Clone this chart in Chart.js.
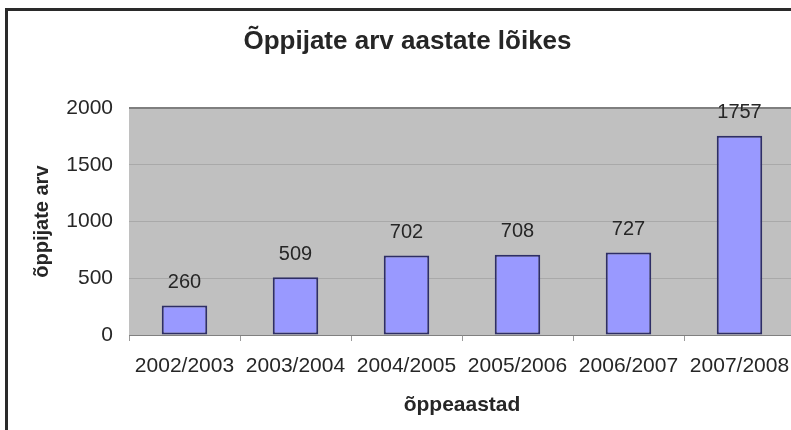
<!DOCTYPE html>
<html lang="et">
<head>
  <meta charset="UTF-8" />
  <title>Õppijate arv aastate lõikes</title>
  <script src="https://cdn.jsdelivr.net/npm/chart.js"></script>
  <style>
    html, body {
      margin: 0;
      width: 791px;
      height: 430px;
      overflow: hidden;
      background: #fff;
    }
    #frame {
      position: absolute;
      left: 5px;
      top: 8px;
      width: 900px;
      height: 600px;
      border: 3px solid #2a2a2a;
      pointer-events: none;
    }
    #chart {
      position: absolute;
      left: 0;
      top: 0;
    }
  </style>
</head>
<body>
  <canvas id="chart" width="815" height="430"></canvas>
  <div id="frame"></div>

  <script>
    const years = ['2002/2003', '2003/2004', '2004/2005', '2005/2006', '2006/2007', '2007/2008'];
    const learners = [260, 509, 702, 708, 727, 1757];
    const yTicks = [0, 500, 1000, 1500, 2000];

    const font = "'Liberation Sans', Arial, sans-serif";
    const textColor = '#262626';

    // grey plot background like the old spreadsheet chart
    const plotBg = {
      id: 'plotBg',
      beforeDraw(chart) {
        const { ctx, chartArea: a } = chart;
        ctx.save();
        ctx.fillStyle = '#c0c0c0';
        ctx.fillRect(a.left, a.top, a.right - a.left, a.bottom - a.top);
        ctx.restore();
      }
    };

    // numbers above the bars
    const valueLabels = {
      id: 'valueLabels',
      afterDatasetsDraw(chart) {
        const { ctx } = chart;
        const meta = chart.getDatasetMeta(0);
        ctx.save();
        ctx.font = '20px ' + font;
        ctx.fillStyle = textColor;
        ctx.textAlign = 'center';
        ctx.textBaseline = 'middle';
        meta.data.forEach((bar, i) => {
          ctx.fillText(String(learners[i]), bar.x, bar.y - 23);
        });
        ctx.restore();
      }
    };

    new Chart(document.getElementById('chart'), {
      type: 'bar',
      data: {
        labels: years,
        datasets: [{
          data: learners,
          backgroundColor: '#9999ff',
          borderColor: '#2e2e66',
          borderWidth: 2,
          borderSkipped: false,
          barPercentage: 0.41,
          categoryPercentage: 1
        }]
      },
      options: {
        responsive: false,
        animation: false,
        layout: { padding: { left: 20, right: 20, top: 0, bottom: 0 } },
        plugins: {
          legend: { display: false },
          tooltip: { enabled: false },
          title: {
            display: true,
            text: 'Õppijate arv aastate lõikes',
            color: textColor,
            font: { family: font, size: 26, weight: 'bold' },
            padding: { top: 26, bottom: 51 }
          }
        },
        scales: {
          x: {
            afterFit: s => { s.height = 95; },
            grid: {
              offset: true,
              drawOnChartArea: false,
              tickLength: 6,
              color: '#9a9a9a'
            },
            border: { color: '#808080', width: 1 },
            ticks: {
              color: textColor,
              font: { family: font, size: 21 },
              padding: 13,
              maxRotation: 0
            },
            title: {
              display: true,
              text: 'õppeaastad',
              color: textColor,
              font: { family: font, size: 21, weight: 'bold' },
              padding: { top: 0, bottom: 12 }
            }
          },
          y: {
            min: yTicks[0],
            max: yTicks[yTicks.length - 1],
            afterFit: s => { s.width = 109; },
            afterBuildTicks: s => { s.ticks = yTicks.map(v => ({ value: v })); },
            grid: {
              drawTicks: false,
              color: c => (c.tick && c.tick.value === 2000 ? '#7f7f7f' : '#a9a9a9'),
              lineWidth: c => (c.tick && c.tick.value === 2000 ? 2 : 1)
            },
            border: { display: false },
            ticks: {
              color: textColor,
              font: { family: font, size: 21 },
              padding: 16,
              callback: v => String(v)
            },
            title: {
              display: true,
              text: 'õppijate arv',
              color: textColor,
              font: { family: font, size: 20, weight: 'bold' },
              padding: { top: 10, bottom: 0 }
            }
          }
        }
      },
      plugins: [plotBg, valueLabels]
    });
  </script>
</body>
</html>
